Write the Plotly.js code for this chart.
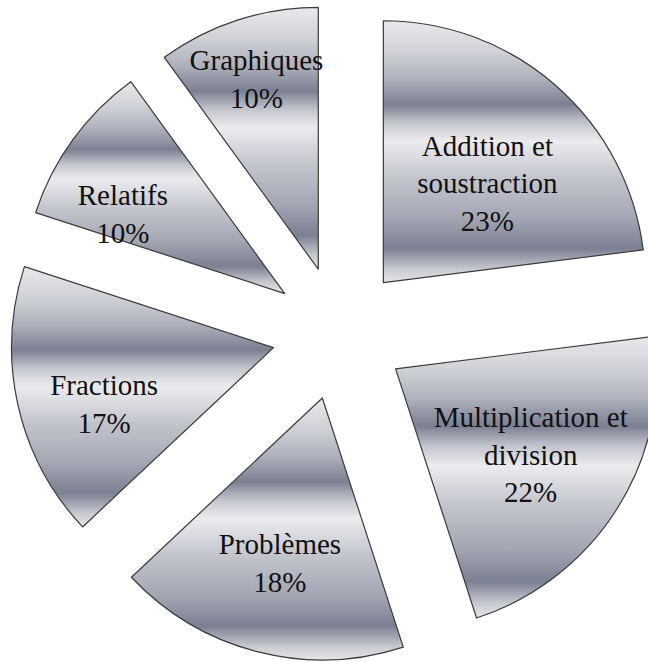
<!DOCTYPE html>
<html>
<head>
<meta charset="utf-8">
<script src="https://cdn.plot.ly/plotly-3.0.1.min.js"></script>
<style>
  html, body { margin: 0; padding: 0; background: #ffffff; overflow: hidden; width: 648px; height: 662px; }
  #chart { width: 668px; height: 662px; }
</style>
</head>
<body>
<div id="chart"></div>
<script>
const categories = [
  "Addition et<br>soustraction",
  "Multiplication et<br>division",
  "Problèmes",
  "Fractions",
  "Relatifs",
  "Graphiques"
];
const shares = [23, 22, 18, 17, 10, 10];

// presentation settings (not data)
const pulls = [0.256, 0.256, 0.256, 0.256, 0.256, 0.256];
const blank = "\u00a0<br>";
const labelTemplates = [
  blank + "%{label}<br>%{percent:.0%}",
  "%{label}<br>%{percent:.0%}",
  "%{label}<br>%{percent:.0%}",
  blank + "%{label}<br>%{percent:.0%}",
  blank + blank + "%{label}<br>%{percent:.0%}",
  "%{label}<br>%{percent:.0%}"
];

const serifFont = "'Liberation Serif', 'Times New Roman', serif";

const trace = {
  type: "pie",
  labels: categories,
  values: shares,
  sort: false,
  direction: "clockwise",
  rotation: 0,
  pull: pulls,
  textposition: "inside",
  insidetextorientation: "horizontal",
  texttemplate: labelTemplates,
  textfont: { family: serifFont, size: 29, color: "#111111" },
  insidetextfont: { family: serifFont, size: 29, color: "#111111" },
  marker: { colors: shares.map(() => "#b4b7c2"), line: { color: "#3a3a3a", width: 1.2 } },
  hoverinfo: "none"
};

const layout = {
  width: 668,
  height: 662,
  margin: { l: 10, r: 0, t: 4, b: 0 },
  showlegend: false,
  font: { family: serifFont },
  paper_bgcolor: "#ffffff",
  plot_bgcolor: "#ffffff",
  uniformtext: { mode: "show", minsize: 29 }
};

Plotly.newPlot("chart", [trace], layout, { staticPlot: true, displayModeBar: false }).then(function (gd) {
  const ns = "http://www.w3.org/2000/svg";
  const svg = gd.querySelector("svg.main-svg");
  let defs = svg.querySelector("defs");
  if (!defs) { defs = document.createElementNS(ns, "defs"); svg.insertBefore(defs, svg.firstChild); }
  const grad = document.createElementNS(ns, "linearGradient");
  grad.setAttribute("id", "chromeGrad");
  grad.setAttribute("x1", "0"); grad.setAttribute("y1", "0");
  grad.setAttribute("x2", "0"); grad.setAttribute("y2", "1");
  const stops = [
    [0, "#e8e9ec"], [0.12, "#cfd1d7"], [0.22, "#afb2bd"], [0.32, "#7b8092"],
    [0.39, "#c3c5cd"], [0.46, "#ececef"], [0.60, "#c3c5cd"], [0.75, "#a4a7b4"],
    [0.87, "#7b8092"], [0.95, "#c9cbd2"], [1, "#e6e7ea"]
  ];
  stops.forEach(function (s) {
    const st = document.createElementNS(ns, "stop");
    st.setAttribute("offset", s[0]);
    st.setAttribute("stop-color", s[1]);
    grad.appendChild(st);
  });
  defs.appendChild(grad);
  gd.querySelectorAll("g.slice path.surface").forEach(function (p) {
    p.style.fill = "url(#chromeGrad)";
  });
});
</script>
</body>
</html>
